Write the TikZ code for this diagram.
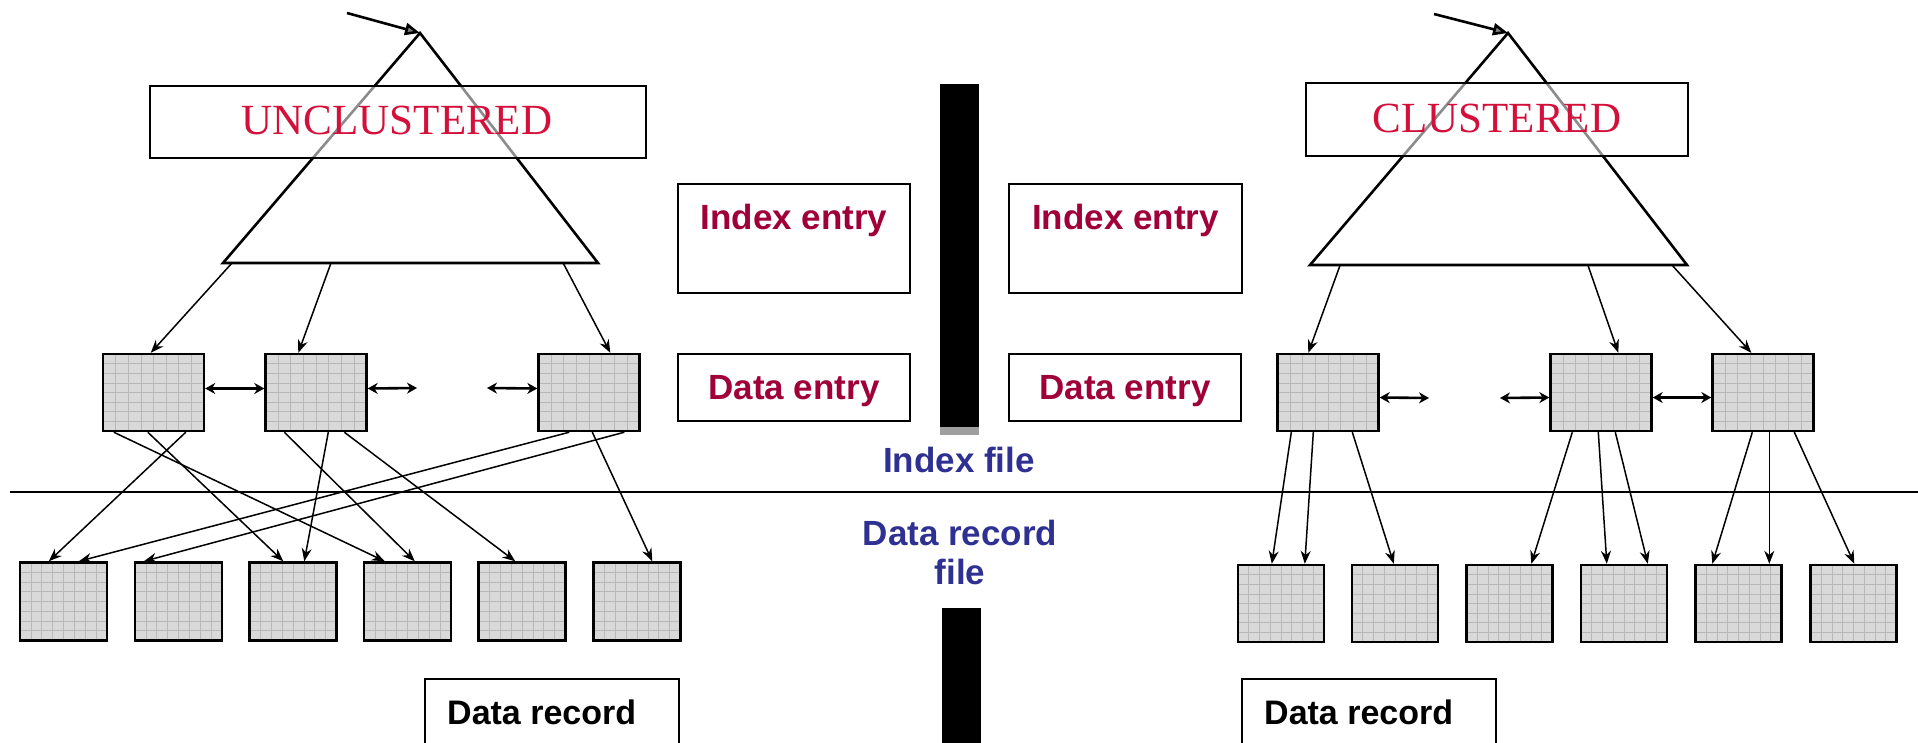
\documentclass[tikz,border=0pt]{standalone}
\usepackage{fontspec}
\setmainfont{Liberation Serif}
\newfontfamily\hv{Liberation Sans}
\usetikzlibrary{arrows.meta,calc}
\definecolor{crim}{HTML}{D4103A}
\definecolor{wine}{HTML}{A00038}
\definecolor{navy}{HTML}{2E3192}
\definecolor{boxfill}{HTML}{D9D9D9}
\definecolor{gridc}{HTML}{B8B8B8}
\begin{document}
\begin{tikzpicture}[x=1pt,y=-1pt,
  gridbox/.style={draw=black, line width=2.4pt, fill=boxfill, rectangle, inner sep=0pt,
    path picture={
      \foreach \i in {1,...,7}{
        \draw[gridc, line width=0.6pt] ($(path picture bounding box.south west)!\i/8!(path picture bounding box.south east)$) -- ($(path picture bounding box.north west)!\i/8!(path picture bounding box.north east)$);
        \draw[gridc, line width=0.6pt] ($(path picture bounding box.south west)!\i/8!(path picture bounding box.north west)$) -- ($(path picture bounding box.south east)!\i/8!(path picture bounding box.north east)$);
      }
    }},
  topbox/.style={gridbox, minimum width=101pt, minimum height=77pt},
  botbox/.style={gridbox, minimum width=87pt, minimum height=78pt},
  conn/.style={line width=1.5pt, -{Stealth[length=13pt,width=10pt]}},
  dbl/.style={line width=2.6pt, {Stealth[length=10pt,width=11pt]}-{Stealth[length=10pt,width=11pt]}},
  rootarr/.style={line width=2.6pt, -{Triangle[open, fill=gray, length=15pt, width=12pt]}},
  tri/.style={line width=2.6pt, line join=miter},
  plainbox/.style={draw=black, line width=2.4pt, rectangle, inner sep=0pt},
  wtext/.style={font=\hv\bfseries\fontsize{35}{40}\selectfont, text=wine, inner sep=0pt},
  btext/.style={font=\hv\bfseries\fontsize{35}{39}\selectfont, text=navy, inner sep=0pt, align=center},
  ktext/.style={font=\hv\bfseries\fontsize{34}{40}\selectfont, text=black, inner sep=0pt},
  stext/.style={font=\fontsize{43}{48}\selectfont, text=crim, inner sep=0pt},
]
\useasboundingbox (0,0) rectangle (1918,742);

% ---------------- LEFT: UNCLUSTERED ----------------
\coordinate (La) at (420,33);
\coordinate (Lbl) at (223,263);
\coordinate (Lbr) at (598,263);
\coordinate (Lin) at (347,13);
\draw[tri] (La) -- (Lbl) -- (Lbr) -- cycle;
\draw[rootarr] (Lin) -- (La);
\node[plainbox, fill=white, fill opacity=0.55, text opacity=1, minimum width=496pt, minimum height=72pt] (Ubox) at (398,122) {};
\node[stext] (Utxt) at (397,120) {UNCLUSTERED};

\node[topbox] (L1) at (153.5,392.5) {};
\node[topbox] (L2) at (316,392.5) {};
\node[topbox] (L3) at (589,392.5) {};

\node[botbox] (b1) at (63.5,601.5) {};
\node[botbox] (b2) at (178.5,601.5) {};
\node[botbox] (b3) at (293,601.5) {};
\node[botbox] (b4) at (407.5,601.5) {};
\node[botbox] (b5) at (522,601.5) {};
\node[botbox] (b6) at (637,601.5) {};

\draw[conn] ($(Lbl)!0.024!(Lbr)$) -- ([xshift=49pt]L1.north west);
\draw[conn] ($(Lbl)!0.288!(Lbr)$) -- ([xshift=34pt]L2.north west);
\draw[conn] ($(Lbl)!0.907!(Lbr)$) -- ([xshift=73pt]L3.north west);

\coordinate (Ld2) at (417,388);
\coordinate (Ld3) at (487,388);
\draw[dbl] ([yshift=4pt]L1.east) -- ([yshift=4pt]L2.west);
\draw[dbl] ([yshift=4pt]L2.east) -- (Ld2);
\draw[dbl] (Ld3) -- ([yshift=4pt]L3.west);

\draw[conn] ([xshift=12pt]L1.south west) -- ([xshift=22pt]b4.north west);
\draw[conn] ([xshift=46pt]L1.south west) -- ([xshift=35pt]b3.north west);
\draw[conn] ([xshift=84pt]L1.south west) -- ([xshift=30pt]b1.north west);
\draw[conn] ([xshift=20pt]L2.south west) -- ([xshift=52pt]b4.north west);
\draw[conn] ([xshift=64pt]L2.south west) -- ([xshift=56pt]b3.north west);
\draw[conn] ([xshift=80pt]L2.south west) -- ([xshift=38pt]b5.north west);
\draw[conn] ([xshift=32pt]L3.south west) -- ([xshift=60pt]b1.north west);
\draw[conn] ([xshift=87pt]L3.south west) -- ([xshift=10pt]b2.north west);
\draw[conn] ([xshift=55pt]L3.south west) -- ([xshift=60pt]b6.north west);

% ---------------- RIGHT: CLUSTERED ----------------
\coordinate (Ra) at (1508,33);
\coordinate (Rbl) at (1310,265);
\coordinate (Rbr) at (1687,265);
\coordinate (Rin) at (1434,14);
\draw[tri] (Ra) -- (Rbl) -- (Rbr) -- cycle;
\draw[rootarr] (Rin) -- (Ra);
\node[plainbox, fill=white, fill opacity=0.55, text opacity=1, minimum width=382pt, minimum height=73pt] (Cbox) at (1497,119.5) {};
\node[stext] (Ctxt) at (1497,118) {CLUSTERED};

\node[topbox] (R1) at (1328,392.5) {};
\node[topbox] (R2) at (1601,392.5) {};
\node[topbox] (R3) at (1763,392.5) {};

\node[botbox, minimum width=86pt, minimum height=77pt] (c1) at (1281,603.5) {};
\node[botbox, minimum width=86pt, minimum height=77pt] (c2) at (1395,603.5) {};
\node[botbox, minimum width=86pt, minimum height=77pt] (c3) at (1509.5,603.5) {};
\node[botbox, minimum width=86pt, minimum height=77pt] (c4) at (1624,603.5) {};
\node[botbox, minimum width=86pt, minimum height=77pt] (c5) at (1738.5,603.5) {};
\node[botbox, minimum width=86pt, minimum height=77pt] (c6) at (1853.5,603.5) {};

\draw[conn] ($(Rbl)!0.08!(Rbr)$) -- ([xshift=32pt]R1.north west);
\draw[conn] ($(Rbl)!0.737!(Rbr)$) -- ([xshift=69pt]R2.north west);
\draw[conn] ($(Rbl)!0.96!(Rbr)$) -- ([xshift=40pt]R3.north west);

\coordinate (Rd1) at (1429,398);
\coordinate (Rd2) at (1500,398);
\draw[dbl] ([yshift=-5pt]R1.east) -- (Rd1);
\draw[dbl] (Rd2) -- ([yshift=-5pt]R2.west);
\draw[dbl] ([yshift=-5pt]R2.east) -- ([yshift=-5pt]R3.west);

\draw[conn] ([xshift=15pt]R1.south west) -- ([xshift=35pt]c1.north west);
\draw[conn] ([xshift=37pt]R1.south west) -- ([xshift=68pt]c1.north west);
\draw[conn] ([xshift=76pt]R1.south west) -- ([xshift=43pt]c2.north west);
\draw[conn] ([xshift=23pt]R2.south west) -- ([xshift=66pt]c3.north west);
\draw[conn] ([xshift=49pt]R2.south west) -- ([xshift=27pt]c4.north west);
\draw[conn] ([xshift=66pt]R2.south west) -- ([xshift=68pt]c4.north west);
\draw[conn] ([xshift=41pt]R3.south west) -- ([xshift=18pt]c5.north west);
\draw[conn] ([xshift=58pt]R3.south west) -- ([xshift=75pt]c5.north west);
\draw[conn] ([xshift=83pt]R3.south west) -- ([xshift=45pt]c6.north west);

% ---------------- MIDDLE ----------------
\node[plainbox, minimum width=232pt, minimum height=109pt] (ie1) at (794,238.5) {};
\node[wtext] (ie1t) at (794,220) {Index entry};
\node[plainbox, minimum width=233pt, minimum height=109pt] (ie2) at (1125.5,238.5) {};
\node[wtext] (ie2t) at (1125.5,220) {Index entry};
\node[plainbox, minimum width=232pt, minimum height=67pt] (de1) at (794,387.5) {};
\node[wtext] (de1t) at (794,391) {Data entry};
\node[plainbox, minimum width=232pt, minimum height=67pt] (de2) at (1125,387.5) {};
\node[wtext] (de2t) at (1125,391) {Data entry};

\node[fill=black, draw=none, inner sep=0pt, minimum width=39pt, minimum height=343pt] (bar1) at (959.5,255.5) {};
\node[fill=gray!75, draw=none, inner sep=0pt, minimum width=39pt, minimum height=8pt] (bar1s) at (959.5,431) {};
\node[fill=black, draw=none, inner sep=0pt, minimum width=39pt, minimum height=150pt] (bar2) at (961.5,683) {};

\node[btext] (ifile) at (959,460) {Index file};
\node[btext] (dfile) at (960,552) {Data record\\file};

\coordinate (hl0) at (10,492);
\coordinate (hl1) at (1918,492);
\draw[line width=2.6pt] (hl0) -- (hl1);

\node[plainbox, anchor=north west, minimum width=254pt, minimum height=90pt] (dr1) at (424,678) {};
\node[ktext, anchor=west] (dr1t) at (447,712) {Data record};
\node[plainbox, anchor=north west, minimum width=254pt, minimum height=90pt] (dr2) at (1241,678) {};
\node[ktext, anchor=west] (dr2t) at (1264,712) {Data record};
\end{tikzpicture}
\end{document}
